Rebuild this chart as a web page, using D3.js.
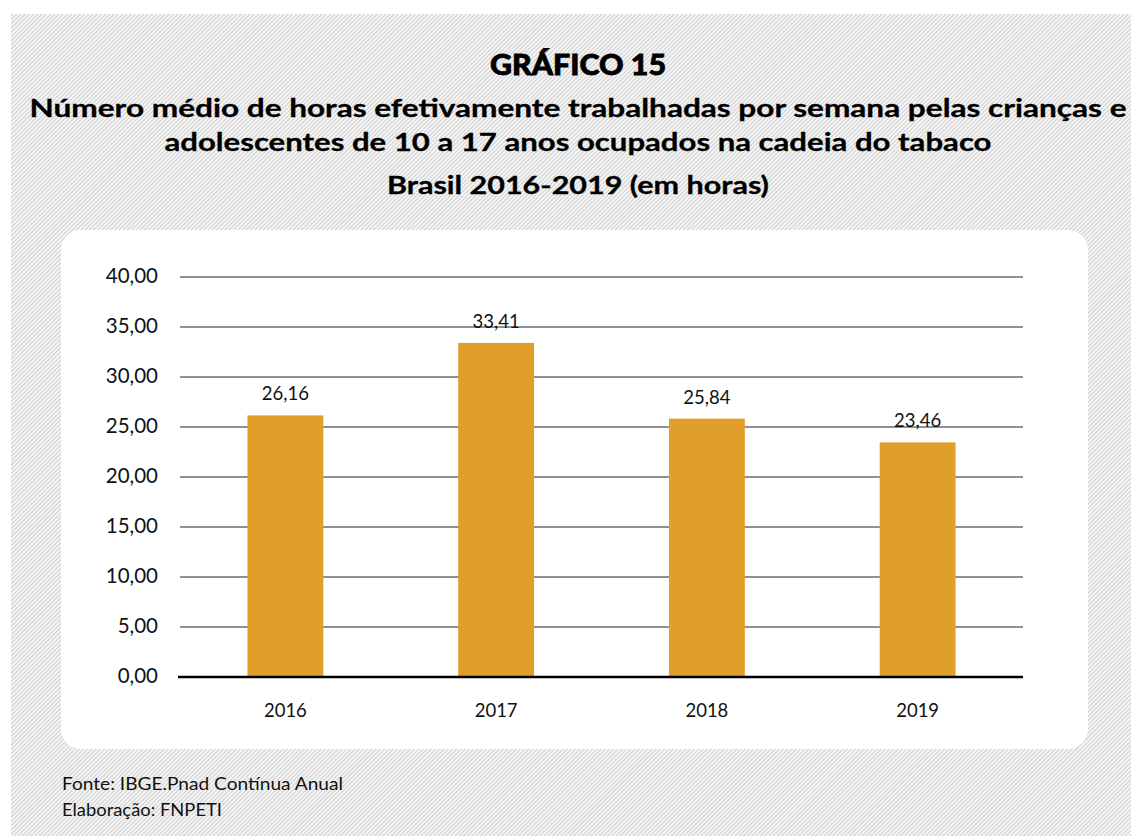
<!DOCTYPE html>
<html>
<head>
<meta charset="utf-8">
<script src="https://cdn.jsdelivr.net/npm/d3@7"></script>
<style>
  html, body { margin: 0; padding: 0; background: #fff; }
  svg { display: block; font-family: Lato, "Open Sans", sans-serif; }
</style>
</head>
<body>
<svg id="chart" width="1131" height="836"></svg>
<script>
// Weekly hours worked, children and adolescents (10-17) in the tobacco chain
const years = ["2016", "2017", "2018", "2019"];
const hours = [26.16, 33.41, 25.84, 23.46];
const yTicks = [0, 5, 10, 15, 20, 25, 30, 35, 40];

const titleLines = [
  "Número médio de horas efetivamente trabalhadas por semana pelas crianças e",
  "adolescentes de 10 a 17 anos ocupados na cadeia do tabaco",
  "Brasil 2016-2019 (em horas)"
];
const sourceLines = ["Fonte: IBGE.Pnad Contínua Anual", "Elaboração: FNPETI"];

const fmt = v => v.toFixed(2).replace(".", ",");

const svg = d3.select("#chart");

// diagonal hatch backdrop
const defs = svg.append("defs");
const pat = defs.append("pattern")
  .attr("id", "hatch")
  .attr("patternUnits", "userSpaceOnUse")
  .attr("width", 3).attr("height", 3)
  .attr("patternTransform", "rotate(45)");
pat.append("rect").attr("width", 3).attr("height", 3).attr("fill", "#fff");
pat.append("rect").attr("width", 1.5).attr("height", 3).attr("fill", "#d2d2d2");

svg.append("rect").attr("x", 11).attr("y", 14)
  .attr("width", 1131 - 11).attr("height", 836 - 14)
  .attr("fill", "url(#hatch)");

// white panel
svg.append("rect").attr("x", 61).attr("y", 230)
  .attr("width", 1027).attr("height", 519)
  .attr("rx", 20).attr("ry", 20)
  .attr("fill", "#fff");

// titles
svg.append("text")
  .attr("x", 578).attr("y", 75)
  .attr("text-anchor", "middle")
  .attr("font-size", 29).attr("font-weight", 900)
  .attr("fill", "#000")
  .attr("stroke", "#000").attr("stroke-width", 0.8)
  .attr("textLength", 176).attr("lengthAdjust", "spacingAndGlyphs")
  .text("GRÁFICO 15");

const titleY = [117, 151, 194];
const titleW = [1097, 827, 382];
titleLines.forEach((t, i) => {
  svg.append("text")
    .attr("x", 578).attr("y", titleY[i])
    .attr("text-anchor", "middle")
    .attr("font-size", 24).attr("font-weight", 700)
    .attr("fill", "#000")
    .attr("stroke", "#000").attr("stroke-width", 0.3)
    .attr("textLength", titleW[i]).attr("lengthAdjust", "spacingAndGlyphs")
    .text(t);
});

// scales
const x = d3.scaleBand().domain(years).range([180, 1023])
  .paddingInner(0.64).paddingOuter(0.32);
const y = d3.scaleLinear().domain([0, 40]).range([677, 277]);

// gridlines
svg.append("g")
  .selectAll("line")
  .data(yTicks.filter(d => d > 0))
  .join("line")
  .attr("x1", 180).attr("x2", 1023)
  .attr("y1", d => y(d)).attr("y2", d => y(d))
  .attr("stroke", "#222").attr("stroke-width", 1);

// y axis labels
const yAxis = svg.append("g")
  .attr("transform", "translate(180,0)")
  .call(d3.axisLeft(y).tickValues(yTicks).tickFormat(fmt).tickSize(0).tickPadding(22));
yAxis.select(".domain").remove();
yAxis.selectAll("text")
  .attr("font-size", 20.5).attr("fill", "#111")
  .attr("font-family", "Lato, sans-serif")
  .attr("dy", "0.25em");

// bars
svg.append("g")
  .selectAll("rect")
  .data(years.map((yr, i) => ({ yr, v: hours[i] })))
  .join("rect")
  .attr("x", d => x(d.yr))
  .attr("width", x.bandwidth())
  .attr("y", d => y(d.v))
  .attr("height", d => y(0) - y(d.v))
  .attr("fill", "#E09E2B");

// value labels
svg.append("g")
  .selectAll("text")
  .data(years.map((yr, i) => ({ yr, v: hours[i] })))
  .join("text")
  .attr("x", d => x(d.yr) + x.bandwidth() / 2)
  .attr("y", d => y(d.v) - 15)
  .attr("text-anchor", "middle")
  .attr("font-size", 18.5).attr("fill", "#111")
  .text(d => fmt(d.v));

// baseline + x labels
const xAxis = svg.append("g")
  .attr("transform", `translate(0,${y(0)})`)
  .call(d3.axisBottom(x).tickSize(0).tickPadding(27));
xAxis.select(".domain").attr("stroke", "#000").attr("stroke-width", 2.5)
  .attr("d", "M178,0H1023");
xAxis.selectAll("text")
  .attr("font-size", 18.5).attr("fill", "#111")
  .attr("font-family", "Lato, sans-serif");

// source notes
const sourceW = [281, 160];
sourceLines.forEach((t, i) => {
  svg.append("text")
    .attr("x", 62).attr("y", 790 + i * 26)
    .attr("font-size", 17).attr("fill", "#111")
    .attr("textLength", sourceW[i]).attr("lengthAdjust", "spacingAndGlyphs")
    .text(t);
});
</script>
</body>
</html>
